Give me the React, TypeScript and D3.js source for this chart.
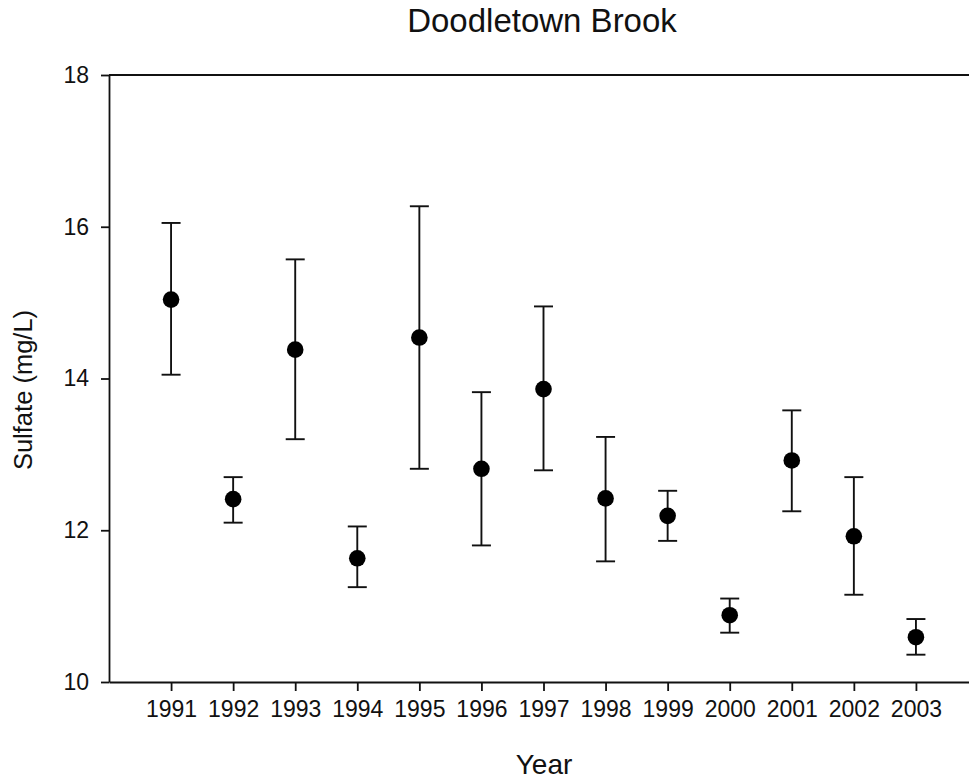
import React, { useEffect, useRef } from "react";
import * as d3 from "d3";

// yearly sulfate means with lower / upper error bar ends
const years = [1991, 1992, 1993, 1994, 1995, 1996, 1997, 1998, 1999, 2000, 2001, 2002, 2003];
const means = [15.04, 12.41, 14.38, 11.63, 14.54, 12.81, 13.86, 12.42, 12.19, 10.88, 12.92, 11.92, 10.59];
const lower = [14.05, 12.10, 13.20, 11.25, 12.81, 11.80, 12.79, 11.59, 11.86, 10.65, 12.25, 11.15, 10.36];
const upper = [16.05, 12.70, 15.57, 12.05, 16.27, 13.82, 14.95, 13.23, 12.52, 11.10, 13.58, 12.70, 10.83];
const yTicks = [10, 12, 14, 16, 18];

const FONT = "'Liberation Sans', Arial, Helvetica, sans-serif";

export default function App() {
    const ref = useRef<SVGSVGElement>(null);

    useEffect(() => {
        const width = 969;
        const left = 109, top = 75, bottom = 682;

        const svg = d3.select(ref.current);
        svg.selectAll("*").remove();

        const x = d3.scaleLinear().domain([1990, 2004]).range([left, 978]);
        const y = d3.scaleLinear().domain([10, 18]).range([bottom, top]);

        // title
        svg.append("text")
            .attr("x", 542).attr("y", 32)
            .attr("text-anchor", "middle")
            .attr("font-family", FONT).attr("font-size", 33)
            .attr("fill", "#111")
            .text("Doodletown Brook");

        // top frame line
        svg.append("line")
            .attr("x1", left).attr("x2", width)
            .attr("y1", y(18)).attr("y2", y(18))
            .attr("stroke", "#111").attr("stroke-width", 2);

        // y axis
        const gy = svg.append("g")
            .attr("transform", `translate(${left},0)`)
            .call(d3.axisLeft(y).tickValues(yTicks).tickSize(8).tickSizeOuter(0).tickPadding(12));
        gy.select(".domain").attr("stroke", "#111").attr("stroke-width", 1.8);
        gy.selectAll(".tick line").attr("stroke", "#111").attr("stroke-width", 1.8);
        gy.selectAll(".tick text")
            .attr("font-family", FONT).attr("font-size", 23).attr("fill", "#111");

        // x axis
        const gx = svg.append("g")
            .attr("transform", `translate(0,${bottom})`)
            .call(d3.axisBottom(x).tickValues(years).tickFormat(d3.format("d")).tickSize(9).tickSizeOuter(0).tickPadding(10));
        gx.select(".domain").attr("stroke", "#111").attr("stroke-width", 2);
        gx.selectAll(".tick line").attr("stroke", "#111").attr("stroke-width", 1.8);
        gx.selectAll(".tick text")
            .attr("font-family", FONT).attr("font-size", 23).attr("fill", "#111");

        // axis titles
        svg.append("text")
            .attr("x", 544).attr("y", 774)
            .attr("text-anchor", "middle")
            .attr("font-family", FONT).attr("font-size", 28)
            .attr("fill", "#111")
            .text("Year");

        svg.append("text")
            .attr("transform", "translate(32,390) rotate(-90)")
            .attr("text-anchor", "middle")
            .attr("font-family", FONT).attr("font-size", 25.5)
            .attr("fill", "#111")
            .text("Sulfate (mg/L)");

        // error bars
        const pts = years.map((yr, i) => ({ yr, m: means[i], lo: lower[i], hi: upper[i] }));
        const bars = svg.append("g").attr("stroke", "#111").attr("stroke-width", 1.9);
        bars.selectAll("line.v").data(pts).join("line")
            .attr("class", "v")
            .attr("x1", d => x(d.yr)).attr("x2", d => x(d.yr))
            .attr("y1", d => y(d.lo)).attr("y2", d => y(d.hi));
        bars.selectAll("line.lo").data(pts).join("line")
            .attr("class", "lo")
            .attr("x1", d => x(d.yr) - 9.5).attr("x2", d => x(d.yr) + 9.5)
            .attr("y1", d => y(d.lo)).attr("y2", d => y(d.lo));
        bars.selectAll("line.hi").data(pts).join("line")
            .attr("class", "hi")
            .attr("x1", d => x(d.yr) - 9.5).attr("x2", d => x(d.yr) + 9.5)
            .attr("y1", d => y(d.hi)).attr("y2", d => y(d.hi));

        // means
        svg.append("g").selectAll("circle").data(pts).join("circle")
            .attr("cx", d => x(d.yr)).attr("cy", d => y(d.m))
            .attr("r", 8.3).attr("fill", "#000");
    }, []);

    return (
        <svg ref={ref} width={969} height={780}
            style={{ position: "absolute", left: 0, top: 0, background: "#fff" }} />
    );
}
